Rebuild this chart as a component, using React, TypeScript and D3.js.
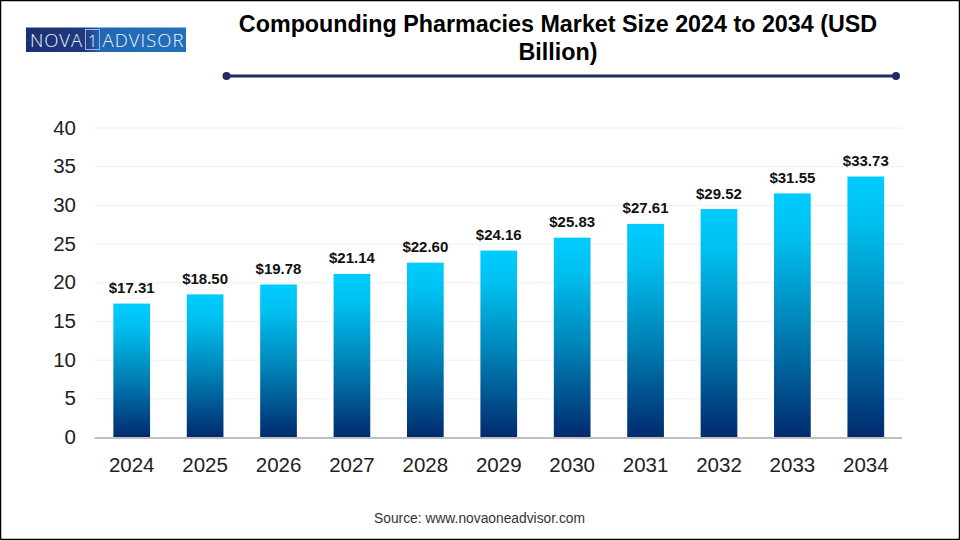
import { useEffect, useRef } from 'react';
import * as d3 from 'd3';

const years = ['2024', '2025', '2026', '2027', '2028', '2029', '2030', '2031', '2032', '2033', '2034'];
const values = [17.31, 18.5, 19.78, 21.14, 22.6, 24.16, 25.83, 27.61, 29.52, 31.55, 33.73];
const yTicks = [0, 5, 10, 15, 20, 25, 30, 35, 40];
const gridTicks = [5, 10, 15, 20, 25, 30, 35, 40];
const titleLines = ['Compounding Pharmacies Market Size 2024 to 2034 (USD', 'Billion)'];

const FONT = '"Liberation Sans", Arial, sans-serif';
const W = 960;
const H = 540;

const App = () => {
  const chartRef = useRef<SVGSVGElement | null>(null);

  useEffect(() => {
    const svg = d3.select(chartRef.current);
    svg.selectAll('*').remove();

    const x = d3.scaleBand().domain(years).range([95, 902.5]).paddingInner(0.5).paddingOuter(0.25);
    const y = d3.scaleLinear().domain([0, 40]).range([437.5, 128]);

    const defs = svg.append('defs');
    const grad = defs.append('linearGradient')
      .attr('id', 'barFill').attr('x1', 0).attr('y1', 0).attr('x2', 0).attr('y2', 1);
    grad.append('stop').attr('offset', '0%').attr('stop-color', '#00ccff');
    grad.append('stop').attr('offset', '18%').attr('stop-color', '#00bfef');
    grad.append('stop').attr('offset', '55%').attr('stop-color', '#0082b6');
    grad.append('stop').attr('offset', '100%').attr('stop-color', '#012a6e');
    const logoGrad = defs.append('linearGradient')
      .attr('id', 'logoFill').attr('x1', 0).attr('y1', 0).attr('x2', 1).attr('y2', 0);
    logoGrad.append('stop').attr('offset', '0%').attr('stop-color', '#1d2f72');
    logoGrad.append('stop').attr('offset', '37%').attr('stop-color', '#1f3a80');
    logoGrad.append('stop').attr('offset', '46%').attr('stop-color', '#2067b4');
    logoGrad.append('stop').attr('offset', '100%').attr('stop-color', '#2470bc');

    svg.append('rect')
      .attr('x', 0.5).attr('y', 0.5).attr('width', W - 1).attr('height', H - 1)
      .attr('fill', '#fff').attr('stroke', '#000').attr('stroke-width', 1.5);

    // logo
    const logo = svg.append('g').style('font-family', '"Open Sans", sans-serif').style('font-weight', 300).attr('fill', '#eef5fc');
    logo.append('rect').attr('x', 26).attr('y', 27.5).attr('width', 160).attr('height', 24.5).attr('fill', 'url(#logoFill)');
    logo.append('text').attr('x', 30).attr('y', 47).attr('font-size', 18.5).attr('textLength', 52).text('NOVA');
    logo.append('rect').attr('x', 85.5).attr('y', 29.5).attr('width', 14).attr('height', 20)
      .attr('fill', 'none').attr('stroke', '#9db4dc').attr('stroke-width', 1);
    logo.append('text').attr('x', 92.5).attr('y', 47).attr('font-size', 17).attr('text-anchor', 'middle').text('1');
    logo.append('text').attr('x', 102.5).attr('y', 47).attr('font-size', 18.5).attr('textLength', 81).text('ADVISOR');

    // title
    svg.append('g').selectAll('text').data(titleLines).join('text')
      .attr('x', 558).attr('y', (_, i) => 32 + i * 28)
      .attr('text-anchor', 'middle')
      .style('font-family', FONT).style('font-weight', 700).style('font-size', '23.3px')
      .attr('fill', '#000').text((d) => d);

    // rule with end dots
    const rule = svg.append('g').attr('fill', '#1f2d66');
    rule.append('line').attr('x1', 226.5).attr('x2', 896).attr('y1', 76).attr('y2', 76)
      .attr('stroke', '#1f2d66').attr('stroke-width', 3);
    rule.selectAll('circle').data([226.5, 896]).join('circle')
      .attr('cx', (d) => d).attr('cy', 76).attr('r', 4);

    // grid
    svg.append('g').selectAll('line').data(gridTicks).join('line')
      .attr('x1', 94.5).attr('x2', 903)
      .attr('y1', (d) => y(d)).attr('y2', (d) => y(d))
      .attr('stroke', '#eeeeee').attr('stroke-width', 1);

    // bars
    svg.append('g').selectAll('rect').data(values).join('rect')
      .attr('x', (_, i) => x(years[i]) as number)
      .attr('y', (d) => y(d))
      .attr('width', x.bandwidth())
      .attr('height', (d) => y(0) - y(d))
      .attr('fill', 'url(#barFill)');

    // bar labels
    svg.append('g').selectAll('text').data(values).join('text')
      .attr('x', (_, i) => (x(years[i]) as number) + x.bandwidth() / 2)
      .attr('y', (d) => y(d) - 10.5)
      .attr('text-anchor', 'middle')
      .style('font-family', FONT).style('font-weight', 700).style('font-size', '15px')
      .attr('fill', '#111').text((d) => `$${d.toFixed(2)}`);

    // baseline
    svg.append('line').attr('x1', 94.5).attr('x2', 902).attr('y1', 438).attr('y2', 438)
      .attr('stroke', '#bfbfbf').attr('stroke-width', 2);

    // y axis
    svg.append('g').attr('transform', 'translate(76,-0.5)')
      .call(d3.axisLeft(y).tickValues(yTicks).tickSize(0).tickPadding(0))
      .call((g) => g.select('.domain').remove())
      .selectAll('text')
      .style('font-family', FONT).style('font-size', '20.5px').attr('fill', '#222');

    // x axis
    svg.append('g').attr('transform', 'translate(0,457)')
      .call(d3.axisBottom(x).tickSize(0).tickPadding(0))
      .call((g) => g.select('.domain').remove())
      .selectAll('text')
      .style('font-family', FONT).style('font-size', '20.5px').attr('fill', '#222');

    // source
    svg.append('text').attr('x', 479.5).attr('y', 523).attr('text-anchor', 'middle')
      .style('font-family', FONT).style('font-size', '13.8px').attr('fill', '#333')
      .text('Source: www.novaoneadvisor.com');
  }, []);

  return (
    <svg
      ref={chartRef}
      width={W}
      height={H}
      style={{ position: 'fixed', left: 0, top: 0, display: 'block' }}
    />
  );
};

export default App;
